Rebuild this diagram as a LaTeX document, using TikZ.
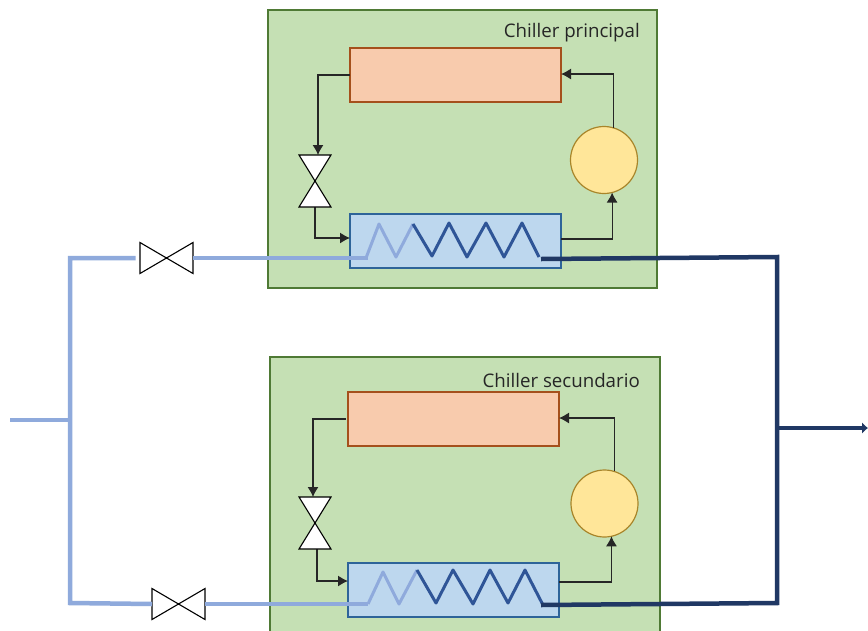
\documentclass[tikz,border=0pt]{standalone}
\usepackage{fontspec}
\setmainfont{Open Sans}
\usetikzlibrary{arrows.meta}

\definecolor{boxgreen}{HTML}{C5E0B4}
\definecolor{boxgreenline}{HTML}{4F7A35}
\definecolor{condfill}{HTML}{F8CBAD}
\definecolor{condline}{HTML}{A5501C}
\definecolor{evapfill}{HTML}{BDD7EE}
\definecolor{evapline}{HTML}{2E6499}
\definecolor{compfill}{HTML}{FFE699}
\definecolor{compline}{HTML}{A8852A}
\definecolor{pipecold}{HTML}{8FAADC}
\definecolor{pipehot}{HTML}{203864}
\definecolor{coilhot}{HTML}{2F5597}

\tikzset{
  chillerbox/.style={draw=boxgreenline, fill=boxgreen, line width=1.1pt, inner sep=0pt, outer sep=0pt, minimum width=#1},
  condbox/.style={draw=condline, fill=condfill, line width=1.1pt, minimum width=211pt, minimum height=54pt, inner sep=0pt, outer sep=0pt},
  evapbox/.style={draw=evapline, fill=evapfill, line width=1.1pt, minimum width=211pt, minimum height=54pt, inner sep=0pt, outer sep=0pt},
  compcircle/.style={draw=compline, fill=compfill, circle, line width=1.2pt, minimum size=67pt, inner sep=0pt, outer sep=0pt},
  valvebox/.style={minimum width=#1, inner sep=0pt, outer sep=0pt},
  valveline/.style={draw=black, fill=white, line width=1.1pt},
  refrig/.style={draw=black!85, line width=1.2pt, -{Latex[length=10pt,width=11pt]}},
  coldpipe/.style={draw=pipecold, line width=4.5pt},
  hotpipe/.style={draw=pipehot, line width=4.5pt},
  coldcoil/.style={draw=pipecold, line width=3pt},
  hotcoil/.style={draw=coilhot, line width=3pt},
  boxlabel/.style={anchor=east, inner sep=0pt, font=\fontsize{18.7}{20}\selectfont, text=black!85}
}

\begin{document}
\begin{tikzpicture}[x=1pt,y=-1pt]
  \clip (0,0) rectangle (868,630);
  \fill[white] (0,0) rectangle (868,630);

  % boxes
  \node[chillerbox=389pt, minimum height=278pt] (chillerA) at (462.5,149) {};
  \node[chillerbox=390pt, minimum height=290pt] (chillerB) at (465,502) {};
  \node[boxlabel] (labelA) at (640,33) {Chiller principal};
  \node[boxlabel] (labelB) at (640,380) {Chiller secundario};

  % main components
  \node[condbox] (condA) at (455.5,75) {};
  \node[evapbox] (evapA) at (455.5,241) {};
  \node[compcircle] (compA) at (604,160) {};
  \node[condbox] (condB) at (453.5,419) {};
  \node[evapbox] (evapB) at (453.5,590) {};
  \node[compcircle] (compB) at (604.5,503.5) {};

  % valves
  \node[valvebox=32pt, minimum height=52pt] (valveA) at (315,181) {};
  \node[valvebox=32pt, minimum height=52pt] (valveB) at (315,523) {};
  \node[valvebox=53pt, minimum height=31pt] (valveC) at (166.5,258) {};
  \node[valvebox=53pt, minimum height=31pt] (valveD) at (178.5,604) {};

  % refrigerant loop, top chiller
  \draw[refrig] (condA.west) -| ([xshift=3pt]valveA.north);
  \draw[refrig] (valveA.south) |- ([yshift=3pt]evapA.west);
  \draw[refrig] ([yshift=2pt]evapA.east) -| (compA.-76);
  \draw[refrig] (compA.73) |- ([yshift=1pt]condA.east);

  % refrigerant loop, bottom chiller
  \draw[refrig] ([xshift=-2pt]condB.west) -| ([xshift=-2pt]valveB.north);
  \draw[refrig] ([xshift=2pt]valveB.south) |- ([yshift=9pt]evapB.west);
  \draw[refrig] ([yshift=8pt]evapB.east) -| (compB.-78);
  \draw[refrig] (compB.73) |- ([yshift=1pt]condB.east);

  % valve symbols
  \draw[valveline] (valveA.north west) -- (valveA.north east) -- (valveA.south west) -- (valveA.south east) -- cycle;
  \draw[valveline] (valveB.north west) -- (valveB.north east) -- (valveB.south west) -- (valveB.south east) -- cycle;
  \draw[valveline] (valveC.north west) -- (valveC.south west) -- (valveC.north east) -- (valveC.south east) -- cycle;
  \draw[valveline] (valveD.north west) -- (valveD.south west) -- (valveD.north east) -- (valveD.south east) -- cycle;

  % coils
  \draw[coldcoil, line join=round] (366,258) -- (379,224) -- (396,257) -- (413,224);
  \draw[hotcoil, line join=round] (413,224) -- (432,256) -- (449,223) -- (467,257) -- (486,223) -- (504,257) -- (522,223) -- (539,257);
  \draw[coldcoil, line join=round] (368,604) -- (383,572) -- (399,604) -- (417,570);
  \draw[hotcoil, line join=round] (417,570) -- (436,603) -- (453,570) -- (473,604) -- (490,570) -- (508,603) -- (525,570) -- (543,605);

  % water pipes
  \coordinate (inlet) at (10,420);
  \coordinate (coldtee) at (70,420);
  \coordinate (coldtop) at (70,258);
  \coordinate (coldbot) at (70,603);
  \coordinate (coilAin) at (368,258);
  \coordinate (coilBin) at (368,604);
  \coordinate (coilAout) at (541,259);
  \coordinate (coilBout) at (541,605);
  \coordinate (hottop) at (777,257);
  \coordinate (hotbot) at (777,603);
  \coordinate (hottee) at (777,428);
  \coordinate (outlet) at (868,428);

  \draw[coldpipe] (inlet) -- (coldtee);
  \draw[coldpipe] ([xshift=-31pt]valveC.center) -- (coldtop) -- (coldbot) -- (valveD.west);
  \draw[coldpipe] (valveC.east) -- (coilAin);
  \draw[coldpipe] (valveD.east) -- (coilBin);
  \draw[hotpipe] (coilAout) -- (hottop) -- (hotbot) -- (coilBout);
  \draw[hotpipe, -{Latex[length=6pt,width=12pt]}] (hottee) -- (outlet);
\end{tikzpicture}
\end{document}
